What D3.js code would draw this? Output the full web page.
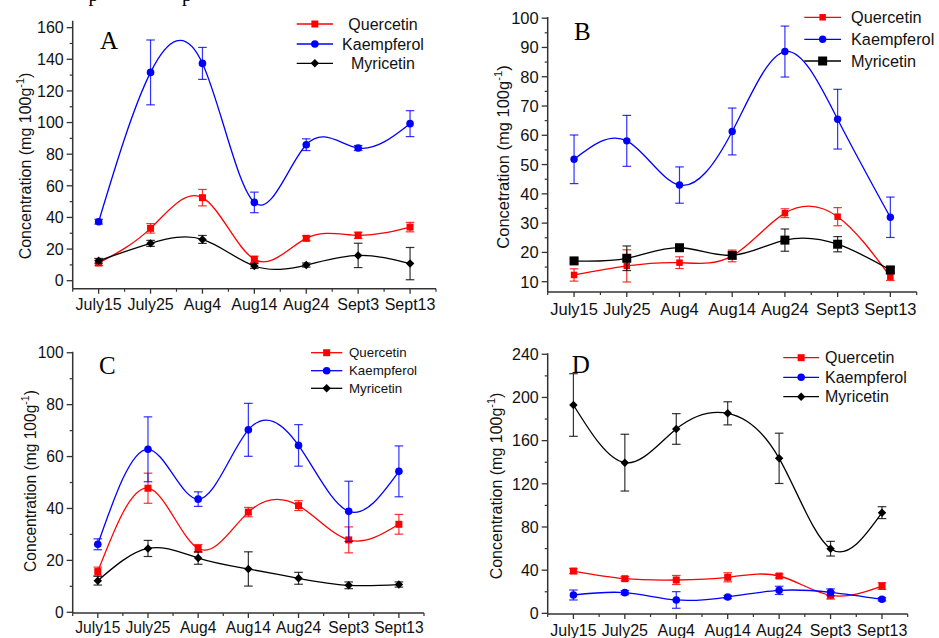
<!DOCTYPE html>
<html lang="en">
<head>
<meta charset="UTF-8">
<title>Flavonol concentration</title>
<script src="https://d3js.org/d3.v7.min.js"></script>
<style>
  body { margin: 0; background: #fff; }
  svg { display: block; font-family: "Liberation Sans", Arial, sans-serif; }
  .tick-label { fill: #111; }
  .panel-label { font-family: "Liberation Serif", "Times New Roman", serif; fill: #000; }
</style>
</head>
<body>
<svg width="939" height="638"></svg>
<script>
// categories (sampling dates)
const categories = ["July15", "July25", "Aug4", "Aug14", "Aug24", "Sept3", "Sept13"];
const seriesNames = ["Quercetin", "Kaempferol", "Myricetin"];

// panel A
const aQuercetin     = [11.2, 33.1, 52.5, 13.5, 26.8, 28.7, 33.9];
const aQuercetinErr  = [1.6, 3.0, 5.2, 2.0, 1.5, 2.0, 3.0];
const aKaempferol    = [37.3, 131.7, 137.4, 49.5, 86.0, 83.9, 99.3];
const aKaempferolErr = [1.5, 20.5, 10.1, 6.5, 3.7, 1.6, 8.2];
const aMyricetin     = [12.6, 23.6, 26.1, 9.3, 9.9, 16.0, 10.8];
const aMyricetinErr  = [1.5, 1.9, 2.5, 1.5, 1.3, 7.7, 10.2];

// panel B
const bQuercetin     = [12.3, 15.4, 16.5, 18.8, 33.4, 32.2, 11.7];
const bQuercetinErr  = [2.1, 5.5, 2.0, 2.0, 1.5, 3.1, 1.3];
const bKaempferol    = [51.8, 58.1, 43.0, 61.3, 88.6, 65.5, 32.0];
const bKaempferolErr = [8.3, 8.7, 6.2, 8.0, 8.7, 10.2, 6.9];
const bMyricetin     = [17.1, 18.0, 21.6, 19.0, 24.2, 22.8, 14.0];
const bMyricetinErr  = [0.8, 4.2, 1.0, 1.0, 3.8, 2.6, 1.2];

// panel C
const cQuercetin     = [15.7, 47.8, 24.6, 38.6, 41.1, 27.9, 33.9];
const cQuercetinErr  = [1.7, 5.8, 1.5, 1.8, 1.9, 5.0, 3.8];
const cKaempferol    = [26.2, 62.8, 43.6, 70.3, 64.3, 38.9, 54.3];
const cKaempferolErr = [2.1, 12.5, 2.8, 10.2, 8.0, 11.6, 9.8];
const cMyricetin     = [12.2, 24.6, 20.9, 16.7, 13.1, 10.4, 10.7];
const cMyricetinErr  = [1.7, 3.1, 2.4, 6.6, 2.3, 1.3, 1.0];

// panel D
const dQuercetin     = [39.2, 32.1, 30.9, 33.4, 34.6, 16.7, 25.3];
const dQuercetinErr  = [2.3, 1.9, 4.2, 4.2, 1.9, 3.5, 3.1];
const dKaempferol    = [17.0, 19.2, 12.4, 15.1, 21.3, 19.5, 13.0];
const dKaempferolErr = [4.6, 1.9, 7.7, 1.5, 3.8, 3.2, 1.5];
const dMyricetin     = [193.0, 139.6, 170.8, 185.3, 143.6, 59.9, 93.3];
const dMyricetinErr  = [29.0, 26.3, 14.2, 10.7, 23.3, 6.8, 5.5];

// y ticks
const aTicks = [0, 20, 40, 60, 80, 100, 120, 140, 160];
const bTicks = [10, 20, 30, 40, 50, 60, 70, 80, 90, 100];
const cTicks = [0, 20, 40, 60, 80, 100];
const dTicks = [0, 40, 80, 120, 160, 200, 240];

const colors = { Quercetin: "#ff0000", Kaempferol: "#0000ff", Myricetin: "#000000" };

// layout of the four panels
const panels = [
  { label: "A", left: 72.7, right: 436, top: 20.7, bottom: 288.7, yDomain: [-5.06, 164.4],
    ticks: aTicks, minor: 10, font: 16, xLabelDy: 21,
    title: "Concentration (mg 100g", titleX: 30.5, titleY: 166,
    labelPos: [100, 49],
    legend: { x1: 296.7, x2: 333, rows: [24, 44, 63.3], textX: 383, anchor: "middle", font: 16 },
    series: { Quercetin: [aQuercetin, aQuercetinErr], Kaempferol: [aKaempferol, aKaempferolErr], Myricetin: [aMyricetin, aMyricetinErr] },
    mSize: { Quercetin: 7, Kaempferol: 7.6, Myricetin: 6 }, mShape: { Myricetin: "diamond" } },
  { label: "B", left: 547.7, right: 916.7, top: 17, bottom: 292, yDomain: [6.48, 100.4],
    ticks: bTicks, minor: 5, font: 16.5, xLabelDy: 23,
    title: "Concetration (mg 100g", titleX: 508.5, titleY: 157,
    labelPos: [574, 40],
    legend: { x1: 804.3, x2: 841, rows: [17.3, 39.3, 61], textX: 851, anchor: "start", font: 16.3 },
    series: { Quercetin: [bQuercetin, bQuercetinErr], Kaempferol: [bKaempferol, bKaempferolErr], Myricetin: [bMyricetin, bMyricetinErr] },
    mSize: { Quercetin: 6.5, Kaempferol: 7.4, Myricetin: 9 }, mShape: { Myricetin: "square" } },
  { label: "C", left: 72.7, right: 424, top: 351.7, bottom: 613, yDomain: [-0.27, 100.4],
    ticks: cTicks, minor: 10, font: 15.6, xLabelDy: 20,
    title: "Concentration (mg 100g", titleX: 36, titleY: 481,
    labelPos: [99, 374],
    legend: { x1: 311, x2: 342.3, rows: [352.7, 370.7, 388.3], textX: 349, anchor: "start", font: 13.3 },
    series: { Quercetin: [cQuercetin, cQuercetinErr], Kaempferol: [cKaempferol, cKaempferolErr], Myricetin: [cMyricetin, cMyricetinErr] },
    mSize: { Quercetin: 7, Kaempferol: 7.6, Myricetin: 6 }, mShape: { Myricetin: "diamond" } },
  { label: "D", left: 547.7, right: 907.7, top: 353.3, bottom: 614, yDomain: [-0.6, 240.9],
    ticks: dTicks, minor: 20, font: 16, xLabelDy: 21.5,
    title: "Concentration (mg 100g", titleX: 502, titleY: 486,
    labelPos: [571.7, 372.7],
    legend: { x1: 783.3, x2: 819, rows: [357.7, 377.3, 396.7], textX: 825, anchor: "start", font: 16 },
    series: { Quercetin: [dQuercetin, dQuercetinErr], Kaempferol: [dKaempferol, dKaempferolErr], Myricetin: [dMyricetin, dMyricetinErr] },
    mSize: { Quercetin: 7, Kaempferol: 7.6, Myricetin: 6 }, mShape: { Myricetin: "diamond" } }
];

const svg = d3.select("svg");

// clipped caption line from the page above the figure
svg.append("text").attr("class", "panel-label").attr("x", 88.5).attr("y", 0.5)
   .attr("font-size", 20).text("p");
svg.append("text").attr("class", "panel-label").attr("x", 182).attr("y", 0.5)
   .attr("font-size", 20).text("p");

function marker(g, shape, size, color, x, y) {
  if (shape === "circle") {
    g.append("circle").attr("cx", x).attr("cy", y).attr("r", size / 2).attr("fill", color);
  } else if (shape === "diamond") {
    g.append("path").attr("d", d3.symbol(d3.symbolSquare, size * size)())
     .attr("transform", `translate(${x},${y}) rotate(45)`).attr("fill", color);
  } else {
    g.append("path").attr("d", d3.symbol(d3.symbolSquare, size * size)())
     .attr("transform", `translate(${x},${y})`).attr("fill", color);
  }
}

panels.forEach(p => {
  const g = svg.append("g");
  const x = d3.scaleLinear().domain([-0.5, 6.5]).range([p.left, p.right]);
  const y = d3.scaleLinear().domain(p.yDomain).range([p.bottom, p.top]);
  const shapeOf = n => p.mShape[n] || (n === "Quercetin" ? "square" : "circle");

  // axes frame
  g.append("line").attr("x1", p.left).attr("x2", p.left).attr("y1", p.top).attr("y2", p.bottom)
   .attr("stroke", "#333").attr("stroke-width", 1.5);
  g.append("line").attr("x1", p.left).attr("x2", p.right).attr("y1", p.bottom).attr("y2", p.bottom)
   .attr("stroke", "#333").attr("stroke-width", 1.5);

  // y ticks
  const minorTicks = d3.range(p.ticks[0] + p.minor, p.ticks[p.ticks.length - 1], p.minor * 2);
  g.selectAll(null).data(p.ticks).enter().append("line")
   .attr("x1", p.left - 6).attr("x2", p.left).attr("y1", d => y(d)).attr("y2", d => y(d))
   .attr("stroke", "#333").attr("stroke-width", 1.3);
  g.selectAll(null).data(minorTicks).enter().append("line")
   .attr("x1", p.left - 3).attr("x2", p.left).attr("y1", d => y(d)).attr("y2", d => y(d))
   .attr("stroke", "#333").attr("stroke-width", 1.2);
  g.selectAll(null).data(p.ticks).enter().append("text").attr("class", "tick-label")
   .attr("x", p.left - 9).attr("y", d => y(d)).attr("dy", "0.36em")
   .attr("text-anchor", "end").attr("font-size", p.font).text(d => d);

  // x ticks
  const idx = d3.range(categories.length);
  g.selectAll(null).data(idx).enter().append("line")
   .attr("x1", d => x(d)).attr("x2", d => x(d)).attr("y1", p.bottom).attr("y2", p.bottom + 5)
   .attr("stroke", "#333").attr("stroke-width", 1.3);
  g.selectAll(null).data(d3.range(-0.5, 7, 1)).enter().append("line")
   .attr("x1", d => x(d)).attr("x2", d => x(d)).attr("y1", p.bottom).attr("y2", p.bottom + 3)
   .attr("stroke", "#333").attr("stroke-width", 1.2);
  g.selectAll(null).data(categories).enter().append("text").attr("class", "tick-label")
   .attr("x", (d, i) => x(i)).attr("y", p.bottom + p.xLabelDy)
   .attr("text-anchor", "middle").attr("font-size", p.font).text(d => d);

  // y title
  const t = g.append("text").attr("class", "tick-label")
   .attr("transform", `translate(${p.titleX},${p.titleY}) rotate(-90)`)
   .attr("text-anchor", "middle").attr("font-size", p.font);
  t.append("tspan").text(p.title);
  t.append("tspan").attr("dy", -7).attr("font-size", p.font * 0.68).text("-1");
  t.append("tspan").attr("dy", 7).text(")");

  // panel letter
  g.append("text").attr("class", "panel-label").attr("x", p.labelPos[0]).attr("y", p.labelPos[1])
   .attr("font-size", 25).text(p.label);

  // series: lines, error bars, markers
  const line = d3.line().x((d, i) => x(i)).y(d => y(d)).curve(d3.curveNatural);
  seriesNames.forEach(n => {
    const [vals, errs] = p.series[n];
    g.append("path").attr("d", line(vals)).attr("fill", "none")
     .attr("stroke", colors[n]).attr("stroke-width", 1.3);
  });
  seriesNames.forEach(n => {
    const [vals, errs] = p.series[n];
    vals.forEach((v, i) => {
      const xi = x(i), lo = y(v - errs[i]), hi = y(v + errs[i]);
      g.append("line").attr("x1", xi).attr("x2", xi).attr("y1", lo).attr("y2", hi)
       .attr("stroke", colors[n]).attr("stroke-width", 1.2).attr("opacity", 0.8);
      [lo, hi].forEach(yy => g.append("line").attr("x1", xi - 4.3).attr("x2", xi + 4.3)
       .attr("y1", yy).attr("y2", yy).attr("stroke", colors[n]).attr("stroke-width", 1.2).attr("opacity", 0.8));
      marker(g, shapeOf(n), p.mSize[n], colors[n], xi, y(v));
    });
  });

  // legend
  const L = p.legend;
  seriesNames.forEach((n, i) => {
    const yy = L.rows[i];
    g.append("line").attr("x1", L.x1).attr("x2", L.x2).attr("y1", yy).attr("y2", yy)
     .attr("stroke", colors[n]).attr("stroke-width", 1.3);
    marker(g, shapeOf(n), p.mSize[n], colors[n], (L.x1 + L.x2) / 2, yy);
    g.append("text").attr("class", "tick-label").attr("x", L.textX).attr("y", yy).attr("dy", "0.36em")
     .attr("text-anchor", L.anchor).attr("font-size", L.font).text(n);
  });
});
</script>
</body>
</html>
